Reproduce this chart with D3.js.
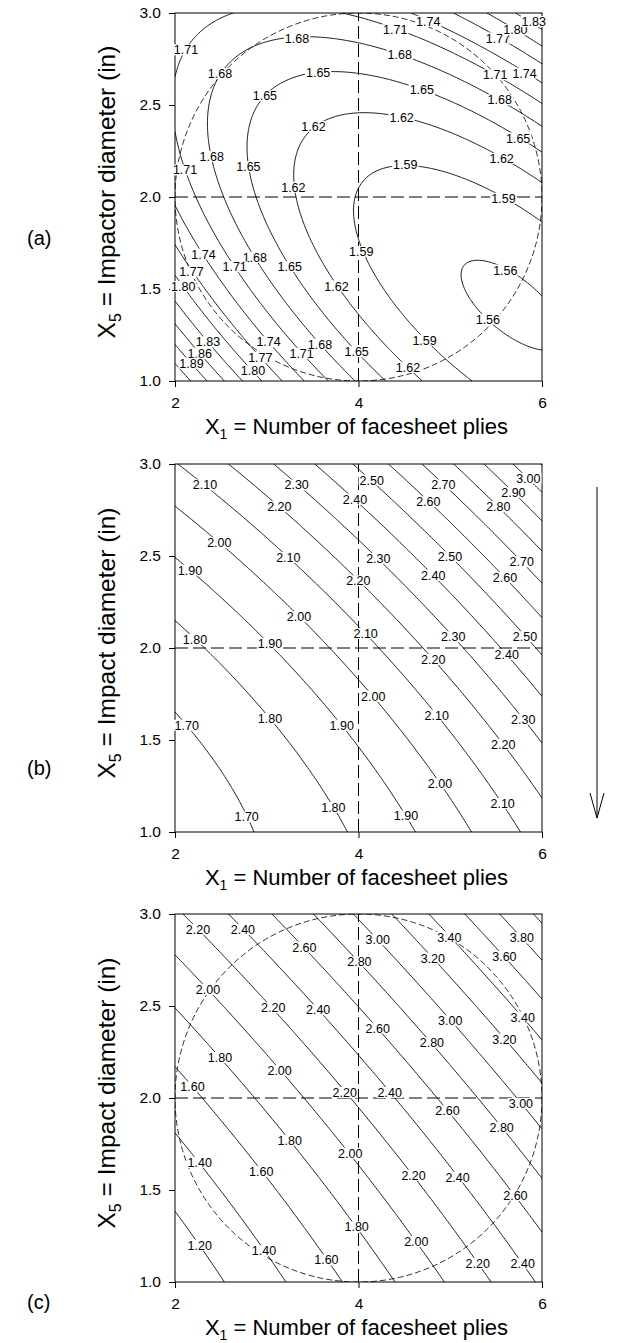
<!DOCTYPE html>
<html>
<head>
<meta charset="utf-8">
<script src="https://cdn.jsdelivr.net/npm/d3@7"></script>
<style>
  body { margin: 0; background: #fff; }
  svg { display: block; }
  text { font-family: "Liberation Sans", Arial, sans-serif; fill: #000; }
</style>
</head>
<body>
<svg id="chart" width="632" height="1343"></svg>
<script>
// ticks
const xTicks = [2, 4, 6];
const yTicks = [1.0, 1.5, 2.0, 2.5, 3.0];

// response surface coefficients, coded units u = (X1-4)/2, v = X5-2
// order: 1, u, v, u^2, v^2, u*v
const coefA = [1.5888, -0.0635, 0.0193, 0.0826, 0.1069, 0.1272];
const coefB = [2.0571, 0.3769, 0.3504, 0.0841, 0.1079, 0.1278];
const coefC = [2.2352, 0.8157, 0.6833, 0.0821, 0.1078, 0.1268];

// contour levels
const levelsA = [1.56, 1.59, 1.62, 1.65, 1.68, 1.71, 1.74, 1.77, 1.80, 1.83, 1.86, 1.89, 1.92, 1.95, 1.98];
const levelsB = [1.60, 1.70, 1.80, 1.90, 2.00, 2.10, 2.20, 2.30, 2.40, 2.50, 2.60, 2.70, 2.80, 2.90, 3.00, 3.10, 3.20];
const levelsC = [1.00, 1.20, 1.40, 1.60, 1.80, 2.00, 2.20, 2.40, 2.60, 2.80, 3.00, 3.20, 3.40, 3.60, 3.80, 4.00];

// contour labels: [value, X1, X5]
const labelsA = [
  [1.71, 2.12, 2.80], [1.68, 3.33, 2.864], [1.68, 2.49, 2.67], [1.65, 3.56, 2.677], [1.65, 2.98, 2.55],
  [1.62, 3.51, 2.383], [1.62, 4.47, 2.434], [1.65, 4.69, 2.583], [1.68, 4.45, 2.773], [1.71, 4.40, 2.909],
  [1.74, 4.76, 2.954], [1.77, 5.52, 2.864], [1.80, 5.71, 2.909], [1.83, 5.91, 2.954], [1.71, 5.49, 2.664],
  [1.74, 5.81, 2.673], [1.68, 5.54, 2.528], [1.65, 5.74, 2.32], [1.62, 5.56, 2.21], [1.59, 4.51, 2.175],
  [1.59, 5.58, 1.993], [1.68, 2.40, 2.22], [1.71, 2.11, 2.147], [1.65, 2.80, 2.165], [1.62, 3.29, 2.053],
  [1.59, 4.03, 1.703], [1.56, 5.60, 1.603], [1.56, 5.41, 1.335], [1.74, 2.31, 1.69], [1.68, 2.87, 1.672],
  [1.77, 2.18, 1.594], [1.71, 2.65, 1.621], [1.65, 3.25, 1.621], [1.80, 2.09, 1.513], [1.62, 3.76, 1.516],
  [1.83, 2.36, 1.213], [1.86, 2.27, 1.15], [1.89, 2.18, 1.096], [1.74, 3.02, 1.213], [1.77, 2.93, 1.128],
  [1.80, 2.85, 1.056], [1.71, 3.38, 1.15], [1.68, 3.58, 1.20], [1.65, 3.98, 1.159], [1.62, 4.54, 1.074],
  [1.59, 4.72, 1.222]
];

const labelsB = [
  [2.10, 2.327, 2.886], [2.30, 3.326, 2.886], [2.50, 4.144, 2.913], [2.70, 4.925, 2.886], [3.00, 5.851, 2.922],
  [2.90, 5.688, 2.846], [2.20, 3.137, 2.768], [2.40, 3.962, 2.808], [2.60, 4.761, 2.795], [2.80, 5.524, 2.768],
  [2.00, 2.483, 2.572], [2.10, 3.235, 2.492], [2.30, 4.216, 2.487], [2.50, 4.997, 2.496], [2.70, 5.779, 2.469],
  [1.90, 2.163, 2.423], [2.20, 3.998, 2.365], [2.40, 4.815, 2.396], [2.60, 5.597, 2.384], [2.00, 3.351, 2.170],
  [2.10, 4.078, 2.079], [2.30, 5.033, 2.061], [2.50, 5.815, 2.061], [1.80, 2.218, 2.046], [1.90, 3.035, 2.025],
  [2.20, 4.815, 1.938], [2.40, 5.615, 1.965], [2.00, 4.161, 1.738], [2.10, 4.852, 1.635], [2.30, 5.796, 1.613],
  [1.70, 2.128, 1.580], [1.80, 3.035, 1.617], [1.90, 3.817, 1.580], [2.20, 5.578, 1.477], [2.00, 4.888, 1.263],
  [2.10, 5.571, 1.154], [1.70, 2.781, 1.082], [1.80, 3.726, 1.133], [1.90, 4.518, 1.087]
];

const labelsC = [
  [2.20, 2.25, 2.915], [2.40, 2.74, 2.915], [2.60, 3.41, 2.82], [3.00, 4.21, 2.86], [2.80, 4.01, 2.74],
  [3.40, 4.99, 2.875], [3.20, 4.81, 2.76], [3.80, 5.78, 2.87], [3.60, 5.59, 2.77], [2.00, 2.36, 2.59],
  [2.20, 3.07, 2.49], [2.40, 3.56, 2.48], [2.60, 4.21, 2.38], [3.00, 5.00, 2.42], [2.80, 4.80, 2.30],
  [3.40, 5.79, 2.44], [3.20, 5.59, 2.32], [1.80, 2.49, 2.22], [2.00, 3.14, 2.15], [1.60, 2.19, 2.06],
  [2.20, 3.85, 2.03], [2.40, 4.34, 2.03], [3.00, 5.77, 1.97], [2.60, 4.97, 1.93], [2.80, 5.56, 1.84],
  [1.80, 3.25, 1.77], [2.00, 3.91, 1.70], [1.40, 2.27, 1.65], [1.60, 2.94, 1.60], [2.20, 4.60, 1.58],
  [2.40, 5.08, 1.57], [2.60, 5.71, 1.47], [1.80, 3.98, 1.30], [2.00, 4.63, 1.22], [1.20, 2.27, 1.20],
  [1.40, 2.97, 1.17], [1.60, 3.65, 1.12], [2.20, 5.30, 1.10], [2.40, 5.79, 1.10]
];

const surface = co => (x1, x5) => {
  const u = (x1 - 4) / 2, v = x5 - 2;
  return co[0] + co[1] * u + co[2] * v + co[3] * u * u + co[4] * v * v + co[5] * u * v;
};

const panels = [
  { letter: "(a)", top: 13, title: "Impactor diameter (in)", levels: levelsA, labels: labelsA, f: surface(coefA), circle: true, letterY: 245 },
  { letter: "(b)", top: 464, title: "Impact diameter (in)", levels: levelsB, labels: labelsB, f: surface(coefB), circle: false, letterY: 775 },
  { letter: "(c)", top: 914, title: "Impact diameter (in)", levels: levelsC, labels: labelsC, f: surface(coefC), circle: true, letterY: 1309 }
];

const svg = d3.select("#chart");
const left = 175, w = 367, h = 368;
const n = 200;

panels.forEach((p, idx) => {
  const x = d3.scaleLinear().domain([2, 6]).range([left, left + w]);
  const y = d3.scaleLinear().domain([1, 3]).range([p.top + h, p.top]);
  const g = svg.append("g");

  g.append("clipPath").attr("id", "clip" + idx)
    .append("rect").attr("x", left).attr("y", p.top).attr("width", w).attr("height", h);

  // sample the surface on a grid
  const values = new Array(n * n);
  for (let j = 0; j < n; j++) {
    const x5 = 3 - j * 2 / (n - 1);
    for (let i = 0; i < n; i++) values[j * n + i] = p.f(2 + i * 4 / (n - 1), x5);
  }
  const gx = d3.scaleLinear().domain([0.5, n - 0.5]).range([left, left + w]);
  const gy = d3.scaleLinear().domain([0.5, n - 0.5]).range([p.top, p.top + h]);
  const path = d3.geoPath(d3.geoTransform({ point(a, b) { this.stream.point(gx(a), gy(b)); } }));
  const contours = d3.contours().size([n, n]).thresholds(p.levels)(values);

  const plot = g.append("g").attr("clip-path", `url(#clip${idx})`);
  plot.selectAll("path.c").data(contours).join("path")
    .attr("d", path).attr("fill", "none").attr("stroke", "#000").attr("stroke-width", 0.9);

  // reference lines
  plot.append("line").attr("x1", x(4)).attr("x2", x(4)).attr("y1", y(1)).attr("y2", y(3))
    .attr("stroke", "#000").attr("stroke-dasharray", "13,5");
  plot.append("line").attr("x1", x(2)).attr("x2", x(6)).attr("y1", y(2)).attr("y2", y(2))
    .attr("stroke", "#000").attr("stroke-dasharray", "13,5");
  if (p.circle) {
    plot.append("ellipse").attr("cx", x(4)).attr("cy", y(2))
      .attr("rx", x(6) - x(4)).attr("ry", y(1) - y(2))
      .attr("fill", "none").attr("stroke", "#000").attr("stroke-width", 0.8).attr("stroke-dasharray", "6,3");
  }

  // frame and axes
  g.append("rect").attr("x", left).attr("y", p.top).attr("width", w).attr("height", h)
    .attr("fill", "none").attr("stroke", "#000").attr("stroke-width", 1);

  const ax = g.append("g").attr("transform", `translate(0,${p.top + h})`)
    .call(d3.axisBottom(x).tickValues(xTicks).tickFormat(d3.format("d")).tickSize(6).tickPadding(10));
  const ay = g.append("g").attr("transform", `translate(${left},0)`)
    .call(d3.axisLeft(y).tickValues(yTicks).tickFormat(d3.format(".1f")).tickSize(6).tickPadding(8));
  [ax, ay].forEach(a => {
    a.select(".domain").remove();
    a.selectAll("text").attr("font-size", 15.5).attr("font-family", '"Liberation Sans", Arial, sans-serif');
  });

  // contour labels, with a white patch that breaks the line
  const lab = g.selectAll("g.lab").data(p.labels).join("g")
    .attr("transform", d => `translate(${x(d[1])},${y(d[2])})`);
  lab.append("rect").attr("fill", "#fff");
  lab.append("text").attr("text-anchor", "middle").attr("dy", "0.36em")
    .attr("font-size", 12.5).text(d => d3.format(".2f")(d[0]));
  lab.each(function () {
    const t = d3.select(this).select("text").node();
    const tw = t.getComputedTextLength();
    d3.select(this).select("rect").attr("x", -tw / 2 - 1).attr("y", -5.5).attr("width", tw + 2).attr("height", 11);
  });

  // axis titles
  const xt = g.append("text").attr("x", left + w / 2 - 2).attr("y", p.top + h + 53)
    .attr("text-anchor", "middle").attr("font-size", 22);
  xt.append("tspan").text("X");
  xt.append("tspan").attr("font-size", 14).attr("dy", 5).text("1");
  xt.append("tspan").attr("dy", -5).text(" = Number of facesheet plies");

  const yt = g.append("text").attr("transform", `translate(115,${p.top + h / 2 - 5}) rotate(-90)`)
    .attr("text-anchor", "middle").attr("font-size", 24.5);
  yt.append("tspan").text("X");
  yt.append("tspan").attr("font-size", 16).attr("dy", 6).text("5");
  yt.append("tspan").attr("dy", -6).text(" = " + p.title);

  g.append("text").attr("x", 27).attr("y", p.letterY).attr("font-size", 20)
    .attr("font-family", '"Liberation Serif", "Times New Roman", serif').text(p.letter);
});

// arrow between panels
svg.append("line").attr("x1", 597).attr("x2", 597).attr("y1", 487).attr("y2", 818)
  .attr("stroke", "#000").attr("stroke-width", 1);
svg.append("path").attr("d", "M590,793L597,818L604,793").attr("fill", "none").attr("stroke", "#000");
</script>
</body>
</html>
